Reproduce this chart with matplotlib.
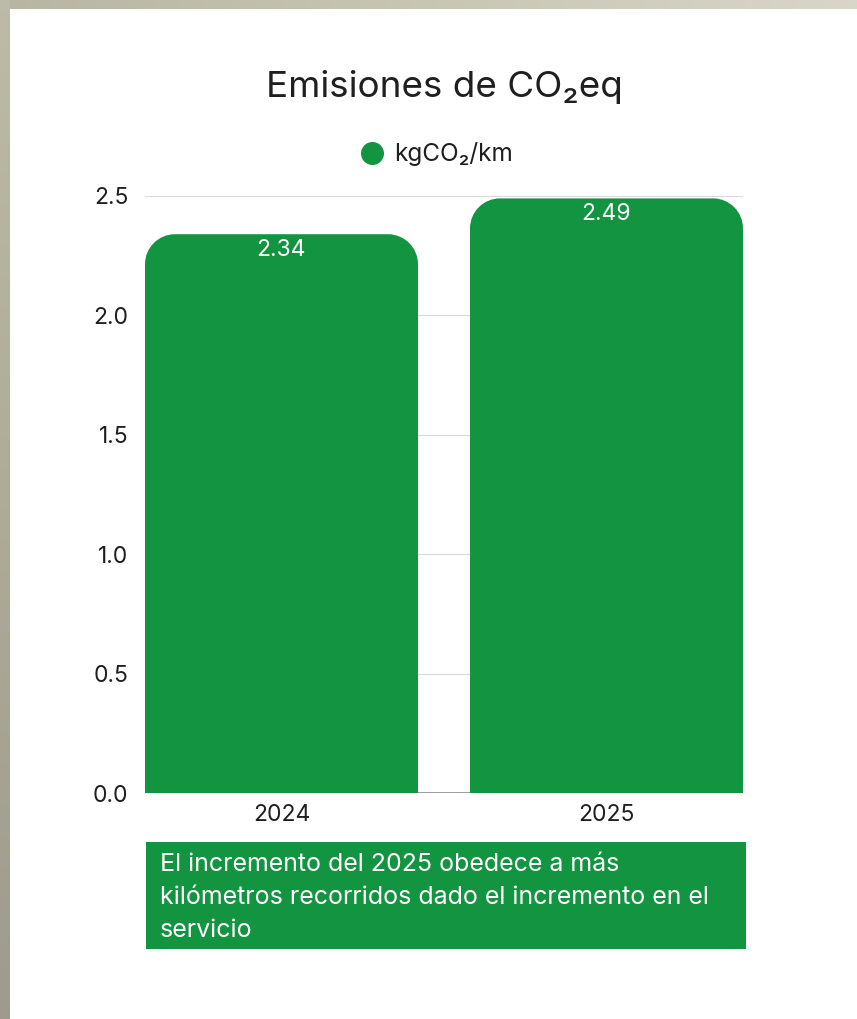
import numpy as np
import matplotlib.pyplot as plt
import matplotlib.patches as patches
from matplotlib.path import Path

plt.rcParams['font.family'] = ['Inter', 'DejaVu Sans']

# Data
years = ['2024', '2025']
emissions = [2.34, 2.49]
series_name = 'kgCO₂/km'
title = 'Emisiones de CO₂eq'
note = ('El incremento del 2025 obedece a más\n'
        'kilómetros recorridos dado el incremento en el\n'
        'servicio')
y_ticks = [0.0, 0.5, 1.0, 1.5, 2.0, 2.5]

W, H = 857, 1019
green = '#139441'
text_dark = '#1f1f1f'

fig = plt.figure(figsize=(W / 100, H / 100), dpi=100)
fig.patch.set_facecolor('#b3b1a3')

# Background frame: gray gradient strips, white card
bg = fig.add_axes([0, 0, 1, 1])
bg.set_xlim(0, W)
bg.set_ylim(H, 0)
bg.axis('off')
grad = np.linspace(0, 1, 200)
top_cols = np.array([[0.72, 0.71, 0.64]]) * (1 - grad[:, None]) + np.array([[0.85, 0.84, 0.78]]) * grad[:, None]
bg.imshow(top_cols[None, :, :], extent=[0, W, 10, 0], aspect='auto')
left_cols = np.linspace([0.74, 0.73, 0.66], [0.62, 0.61, 0.55], 100)
bg.imshow(left_cols[:, None, :], extent=[0, 10, H, 0], aspect='auto')
bg.add_patch(patches.Rectangle((10, 9), W - 10, H - 9, facecolor='white', edgecolor='none'))

# Main axes
ax_left, ax_right = 145, 743
ax_top, ax_bottom = 196, 793
ax = fig.add_axes([ax_left / W, 1 - ax_bottom / H, (ax_right - ax_left) / W, (ax_bottom - ax_top) / H])
ax.set_facecolor('none')

x = np.arange(len(years))
bar_w = 0.84
bars = ax.bar(x, emissions, width=bar_w, color=green, zorder=2)
ax.set_xlim(-0.42, len(years) - 1 + 0.42)
ax.set_ylim(0, 2.5)

# Replace bars with rounded-top versions
radius_px = 30
x_scale = (ax_right - ax_left) / (ax.get_xlim()[1] - ax.get_xlim()[0])
y_scale = (ax_bottom - ax_top) / (ax.get_ylim()[1] - ax.get_ylim()[0])
rx, ry = radius_px / x_scale, radius_px / y_scale
k = 0.5523
for b in bars:
    bx, by, bw, bh = b.get_x(), b.get_y(), b.get_width(), b.get_height()
    verts = [
        (bx, by),
        (bx + bw, by),
        (bx + bw, by + bh - ry),
        (bx + bw, by + bh - ry + k * ry), (bx + bw - rx + k * rx, by + bh), (bx + bw - rx, by + bh),
        (bx + rx, by + bh),
        (bx + rx - k * rx, by + bh), (bx, by + bh - ry + k * ry), (bx, by + bh - ry),
        (bx, by),
    ]
    codes = [Path.MOVETO, Path.LINETO, Path.LINETO,
             Path.CURVE4, Path.CURVE4, Path.CURVE4,
             Path.LINETO,
             Path.CURVE4, Path.CURVE4, Path.CURVE4,
             Path.CLOSEPOLY]
    ax.add_patch(patches.PathPatch(Path(verts, codes), facecolor=green, edgecolor='none', zorder=3))
    b.set_visible(False)

# Value labels
for xi, v in zip(x, emissions):
    ax.text(xi, v - 16 / y_scale, f'{v:.2f}', ha='center', va='center',
            color='white', fontsize=16.5, zorder=4)

# Grid and axes styling
ax.set_yticks(y_ticks)
ax.set_yticklabels([f'{t:.1f}' for t in y_ticks])
ax.yaxis.grid(True, color='#d9d9d9', linewidth=0.8, zorder=0)
ax.set_axisbelow(True)
for s in ax.spines.values():
    s.set_visible(False)
ax.axhline(0, color='#8a8a8a', linewidth=1.2, zorder=1)
ax.tick_params(axis='both', length=0, labelsize=16.5, labelcolor=text_dark)
ax.tick_params(axis='y', pad=12)
ax.tick_params(axis='x', pad=8)
ax.set_xticks(x)
ax.set_xticklabels(years)

# Title and legend
fig.text(444 / W, 1 - 87 / H, title, ha='center', va='center', fontsize=26.5, color=text_dark)
bg.add_patch(patches.Circle((372.5, 153.5), 11.5, facecolor=green, edgecolor='none'))
bg.text(394, 153.5, series_name, ha='left', va='center', fontsize=17.5, color=text_dark)

# Note box
bg.add_patch(patches.Rectangle((146, 842), 600, 107, facecolor=green, edgecolor='none'))
bg.text(160, 853, note, ha='left', va='top', fontsize=18, color='white', linespacing=1.56)

fig.savefig('out.png', dpi=100)
